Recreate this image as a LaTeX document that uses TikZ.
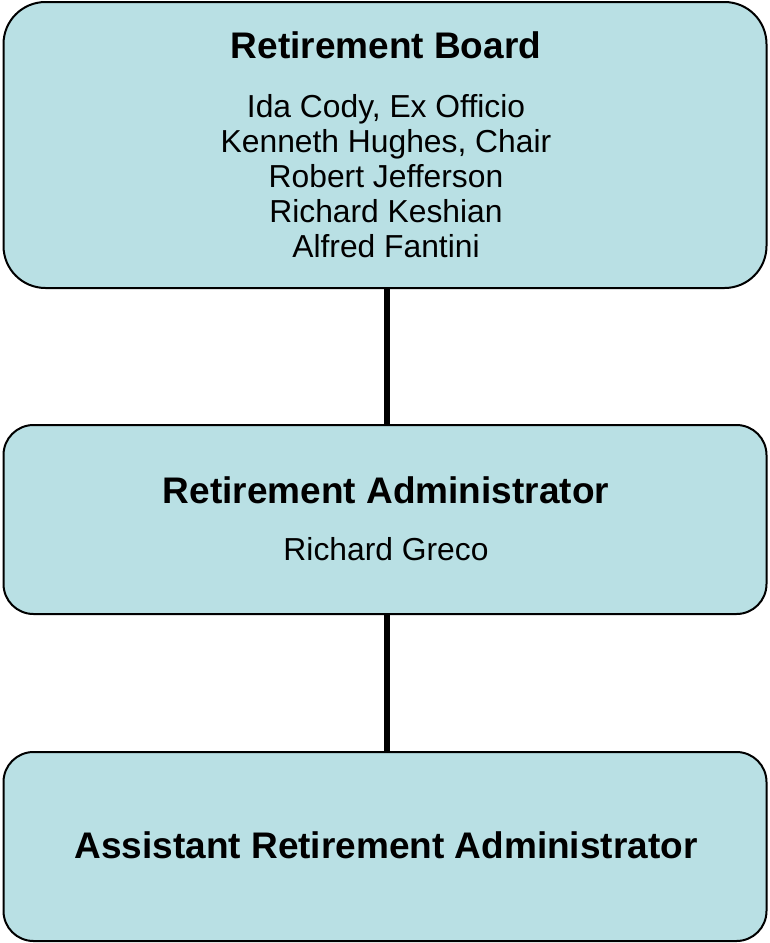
\documentclass[tikz,border=0pt]{standalone}
\usepackage{fontspec}
\setmainfont{Liberation Sans}
\usepackage{xcolor}
\definecolor{boxblue}{RGB}{185,224,228}

\begin{document}
\begin{tikzpicture}[x=1pt, y=-1pt,
    box/.style={draw, line width=2pt, fill=boxblue, minimum width=763pt, inner sep=0pt, outer sep=0pt},
    heading/.style={anchor=base, font=\bfseries\fontsize{37}{40}\selectfont},
    member/.style={anchor=base, font=\fontsize{31.8}{35}\selectfont},
    link/.style={line width=6.5pt}]
  \useasboundingbox (0, 0) rectangle (769, 943);

  \node[box, rounded corners=42pt, minimum height=286pt] (board) at (385, 145) {};
  \node[box, rounded corners=30pt, minimum height=189pt] (admin) at (385, 519.5) {};
  \node[box, rounded corners=30pt, minimum height=189pt] (asst) at (385, 846.5) {};

  \node[heading] (boardtitle) at (386, 58) {Retirement Board};
  \node[member] (cody) at (386, 117) {Ida Cody, Ex Officio};
  \node[member] (hughes) at (386, 152) {Kenneth Hughes, Chair};
  \node[member] (jefferson) at (386, 187) {Robert Jefferson};
  \node[member] (keshian) at (386, 222) {Richard Keshian};
  \node[member] (fantini) at (386, 257) {Alfred Fantini};

  \node[heading] (admintitle) at (386, 503) {Retirement Administrator};
  \node[member] (greco) at (386, 560) {Richard Greco};

  \node[heading] (assttitle) at (386, 858) {Assistant Retirement Administrator};

  \draw[link] ([xshift=2pt]board.south) -- ([xshift=2pt]admin.north);
  \draw[link] ([xshift=2pt]admin.south) -- ([xshift=2pt]asst.north);
\end{tikzpicture}
\end{document}
